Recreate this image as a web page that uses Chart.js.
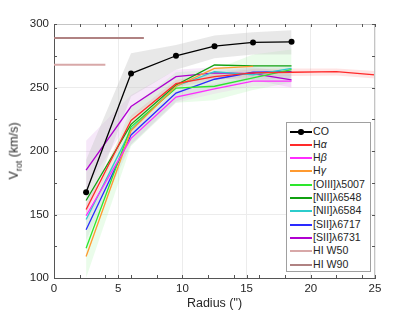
<!DOCTYPE html>
<html>
<head>
<meta charset="utf-8">
<script src="https://cdn.jsdelivr.net/npm/chart.js@4.4.1/dist/chart.umd.min.js"></script>
<style>
  html, body { margin: 0; padding: 0; background: #fff; }
  #wrap { position: relative; width: 415px; height: 312px; font-family: "Liberation Sans", Arial, sans-serif; color: #262626; }
  #ytitle { position: absolute; left: 15px; top: 151px; transform: translate(-50%, -50%) rotate(-90deg); font-size: 12.5px; white-space: nowrap; }
  #ytitle sub { font-size: 9px; }
  #legend { position: absolute; left: 286px; top: 122px; width: 83px; height: 148px; border: 1px solid #a0a0a0; background: #fff; box-sizing: content-box; }
  .row { position: absolute; left: 0; width: 83px; height: 13px; line-height: 13px; font-size: 10.6px; white-space: nowrap; }
  .row .ln { position: absolute; left: 3px; top: 6px; width: 22px; height: 1.5px; background: #000; }
  .row .dot { position: absolute; left: 11px; top: 4px; width: 5.5px; height: 5.5px; border-radius: 50%; background: #000; }
  .row .tx { position: absolute; left: 26px; top: 0; }
</style>
</head>
<body>
<div id="wrap">
  <canvas id="c" width="415" height="312"></canvas>
  <div id="ytitle">V<sub>rot</sub> (km/s)</div>
  <div id="legend"></div>
</div>
<script>
// ── data ──
const R = [2.5, 6, 9.5, 12.5, 15.5, 18.5];
const R_HA = [2.5, 6, 9.5, 12.5, 15.5, 18.5, 22, 25];
const R_HG = [2.5, 6, 9.5, 12.5, 15.5];

const CO     = [167.5, 261, 275, 282.5, 285.5, 286];
const HA     = [154, 224, 253, 258.5, 261.5, 262, 262.5, 260];
const HB     = [149, 210, 242.5, 249, 255, 255];
const HG     = [117, 216, 251, 265, 266.7];
const OIII   = [123.5, 219, 249.5, 251, 257.5, 264];
const NII48  = [161, 221, 252, 267.7, 267, 267];
const NII84  = [146, 217, 251, 262.5, 260, 265];
const SII17  = [138, 212.6, 245.6, 256.5, 262, 262.5];
const SII31  = [185, 235, 258.5, 261.5, 261, 256];

const HI_X   = [0, 4];
const HI_W50 = [268, 268];
const HI_X90 = [0, 7];
const HI_W90 = [289, 289];

// uncertainty bands
const CO_HI    = [193, 277, 283.5, 291, 293.5, 295];
const CO_LO    = [150, 243, 264, 273, 276, 276];
const OIII_HI  = [146, 234, 262, 264, 276, 280];
const OIII_LO  = [100, 204, 238, 240, 248, 254];
const SII31_HI = [208, 244, 264, 266, 266, 262];
const SII31_LO = [170, 226, 253, 257, 256, 250];
const SII17_HI = [146, 220, 252, 262, 266, 267];
const SII17_LO = [130, 205, 239, 249, 256, 257];
const HA_HI    = [158, 228, 256, 261, 264.5, 265, 265, 263];
const HA_LO    = [150, 220, 250, 256, 258.5, 259, 259.5, 257];
const HB_HI    = [154, 215, 247, 253, 259, 260];
const HB_LO    = [144, 205, 238, 245, 251, 250];

const X_TICKS = [0, 5, 10, 15, 20, 25];
const Y_TICKS = [100, 150, 200, 250, 300];

const pts = (xs, ys) => ys.map((y, i) => ({ x: xs[i], y }));

// ── series ──
const series = [
  { label: 'CO',          x: R,      y: CO,     color: '#000000', marker: true },
  { label: 'Hα',          x: R_HA,   y: HA,     color: '#ff2a2a' },
  { label: 'Hβ',          x: R,      y: HB,     color: '#ff2cff' },
  { label: 'Hγ',          x: R_HG,   y: HG,     color: '#ff9a30' },
  { label: '[OIII]λ5007', x: R,      y: OIII,   color: '#2de62d' },
  { label: '[NII]λ6548',  x: R,      y: NII48,  color: '#10a010' },
  { label: '[NII]λ6584',  x: R,      y: NII84,  color: '#2ccccc' },
  { label: '[SII]λ6717',  x: R,      y: SII17,  color: '#2a2aff' },
  { label: '[SII]λ6731',  x: R,      y: SII31,  color: '#b000d0' },
  { label: 'HI W50',      x: HI_X,   y: HI_W50, color: '#d8a8a8', width: 2 },
  { label: 'HI W90',      x: HI_X90, y: HI_W90, color: '#b08282', width: 2 }
];

const bands = [
  { x: R,    hi: CO_HI,    lo: CO_LO,    fill: 'rgba(200,200,200,0.42)' },
  { x: R,    hi: OIII_HI,  lo: OIII_LO,  fill: 'rgba(140,240,140,0.18)' },
  { x: R,    hi: SII17_HI, lo: SII17_LO, fill: 'rgba(160,160,190,0.16)' },
  { x: R,    hi: SII31_HI, lo: SII31_LO, fill: 'rgba(200,110,220,0.16)' },
  { x: R,    hi: HB_HI,    lo: HB_LO,    fill: 'rgba(255,120,255,0.14)' },
  { x: R_HA, hi: HA_HI,    lo: HA_LO,    fill: 'rgba(255,90,90,0.16)' }
];

const datasets = [];
series.forEach((s, i) => {
  datasets.push({
    label: s.label,
    data: pts(s.x, s.y),
    borderColor: s.color,
    backgroundColor: s.color,
    borderWidth: s.width || 1.3,
    pointRadius: s.marker ? 3 : 0,
    pointBorderWidth: 0,
    fill: false,
    tension: 0,
    order: i + 1
  });
});
bands.forEach(b => {
  datasets.push({
    data: pts(b.x, b.hi), borderWidth: 0, pointRadius: 0,
    backgroundColor: b.fill, fill: '+1', order: 100
  });
  datasets.push({
    data: pts(b.x, b.lo), borderWidth: 0, pointRadius: 0,
    fill: false, order: 100
  });
});

// ── frame + inward ticks ──
const framePlugin = {
  id: 'frame',
  afterDraw(chart) {
    const { ctx, chartArea: a, scales: { x, y } } = chart;
    ctx.save();
    ctx.strokeStyle = '#c4c4c4';
    ctx.lineWidth = 1;
    ctx.beginPath();
    ctx.moveTo(a.left, a.top + 0.5); ctx.lineTo(a.right, a.top + 0.5);
    ctx.moveTo(a.right - 0.5, a.top); ctx.lineTo(a.right - 0.5, a.bottom);
    ctx.stroke();
    ctx.strokeStyle = '#555';
    ctx.beginPath();
    for (let v = 0; v <= 25; v++) {
      if (v % 2 && v % 5) continue;
      const px = Math.round(x.getPixelForValue(v)) + 0.5;
      ctx.moveTo(px, a.bottom); ctx.lineTo(px, a.bottom - 3);
      ctx.moveTo(px, a.top); ctx.lineTo(px, a.top + 3);
    }
    for (let v = 100; v <= 300; v += 25) {
      const py = Math.round(y.getPixelForValue(v)) + 0.5;
      ctx.moveTo(a.left, py); ctx.lineTo(a.left + 3, py);
      ctx.moveTo(a.right, py); ctx.lineTo(a.right - 3, py);
    }
    ctx.stroke();
    ctx.restore();
  }
};

new Chart(document.getElementById('c'), {
  type: 'line',
  data: { datasets },
  options: {
    responsive: false,
    animation: false,
    layout: { padding: { top: 24, right: 40, left: 0, bottom: 0 } },
    plugins: { legend: { display: false }, tooltip: { enabled: false } },
    scales: {
      x: {
        type: 'linear', min: 0, max: 25,
        afterBuildTicks: s => { s.ticks = X_TICKS.map(v => ({ value: v })); },
        afterFit: s => { s.height = 34; },
        grid: { color: '#ececec', drawTicks: false },
        border: { color: '#555', width: 1 },
        ticks: { color: '#262626', padding: 4, font: { family: '"Liberation Sans", Arial, sans-serif', size: 11.5 } },
        title: { display: true, text: 'Radius (")', color: '#262626', padding: { top: 0, bottom: 1 },
                 font: { family: '"Liberation Sans", Arial, sans-serif', size: 12.5 } }
      },
      y: {
        min: 100, max: 300,
        afterBuildTicks: s => { s.ticks = Y_TICKS.map(v => ({ value: v })); },
        afterFit: s => { s.width = 54; },
        grid: { color: '#ececec', drawTicks: false },
        border: { color: '#555', width: 1 },
        ticks: { color: '#262626', padding: 5, font: { family: '"Liberation Sans", Arial, sans-serif', size: 11.5 } }
      }
    }
  },
  plugins: [framePlugin]
});

// ── legend ──
const legendEl = document.getElementById('legend');
series.forEach((s, i) => {
  const row = document.createElement('div');
  row.className = 'row';
  row.style.top = Math.round(1.5 + i * 13.3) + 'px';
  const ln = document.createElement('span');
  ln.className = 'ln';
  ln.style.background = s.color;
  row.appendChild(ln);
  if (s.marker) {
    const d = document.createElement('span');
    d.className = 'dot';
    row.appendChild(d);
  }
  const tx = document.createElement('span');
  tx.className = 'tx';
  tx.innerHTML = s.label.replace(/([αβγ])/g, '<i>$1</i>');
  row.appendChild(tx);
  legendEl.appendChild(row);
});
</script>
</body>
</html>
